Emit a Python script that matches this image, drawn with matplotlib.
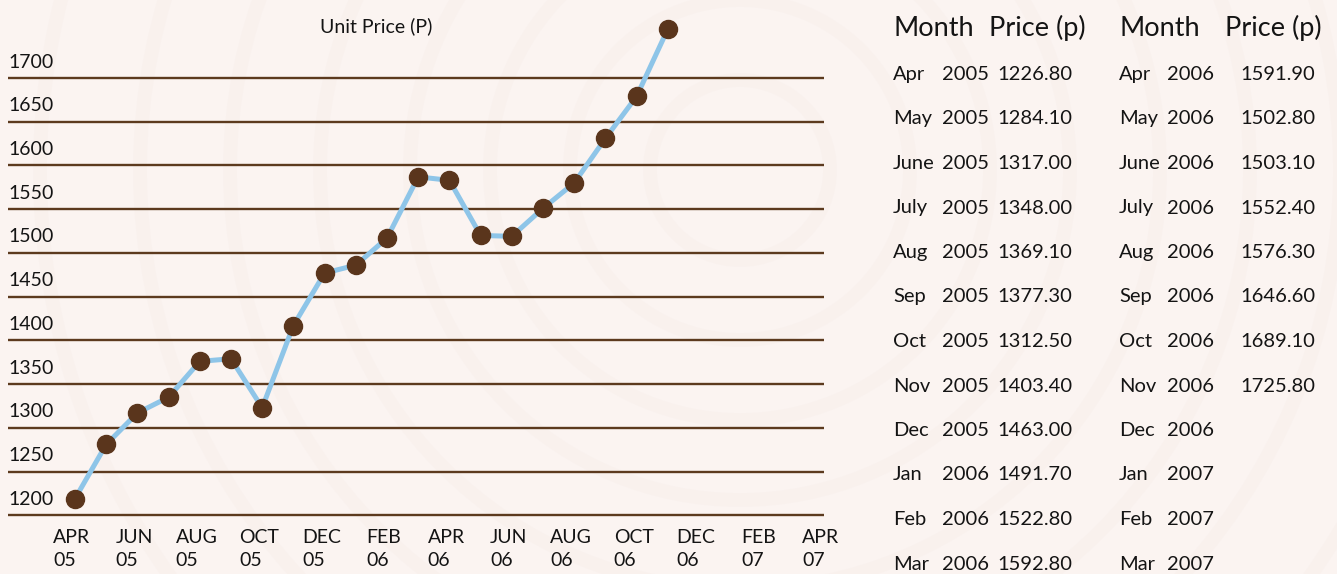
import matplotlib
matplotlib.use('Agg')
import matplotlib.pyplot as plt
from matplotlib.patches import Circle
from matplotlib.transforms import ScaledTranslation

plt.rcParams['font.family'] = ['Lato', 'DejaVu Sans']

# Plotted series, months Apr 05 .. Nov 06
months = list(range(20))
price = [1219, 1281, 1317, 1335, 1376, 1379, 1323, 1417, 1477, 1486,
         1517, 1587, 1583, 1520, 1519, 1551, 1580, 1631, 1679, 1756]

y_levels = [1200, 1250, 1300, 1350, 1400, 1450, 1500, 1550, 1600, 1650, 1700]
x_ticks = list(range(0, 25, 2))
x_labels = ['APR\n05', 'JUN\n05', 'AUG\n05', 'OCT\n05', 'DEC\n05', 'FEB\n06',
            'APR\n06', 'JUN\n06', 'AUG\n06', 'OCT\n06', 'DEC\n06', 'FEB\n07', 'APR\n07']

# Table on the right
tab_months = ['Apr', 'May', 'June', 'July', 'Aug', 'Sep', 'Oct', 'Nov',
              'Dec', 'Jan', 'Feb', 'Mar']
tab_years1 = ['2005'] * 9 + ['2006'] * 3
tab_years2 = ['2006'] * 9 + ['2007'] * 3
tab_prices1 = ['1226.80', '1284.10', '1317.00', '1348.00', '1369.10', '1377.30',
               '1312.50', '1403.40', '1463.00', '1491.70', '1522.80', '1592.80']
tab_prices2 = ['1591.90', '1502.80', '1503.10', '1552.40', '1576.30', '1646.60',
               '1689.10', '1725.80', '', '', '', '']

W, H = 1337, 574
bg = '#fbf4f1'
grid_col = '#5c3a1e'
line_col = '#8ec5e8'
dot_col = '#5a351c'
txt = '#141414'

fig = plt.figure(figsize=(W / 100, H / 100), dpi=100, facecolor=bg)

def px(x, y):
    return x / W, 1 - y / H

# faint wood-ring texture
bgax = fig.add_axes([0, 0, 1, 1], zorder=-5)
bgax.set_xlim(0, W)
bgax.set_ylim(H, 0)
bgax.axis('off')
for r in [90, 170, 250, 330, 420, 510, 600, 700]:
    bgax.add_patch(Circle((740, 170), r, fill=False, ec='#f6ece8', lw=10, alpha=0.35))

# main chart
ax = fig.add_axes([8 / W, (H - 525) / H, (824 - 8) / W, (525 - 5) / H])
ax.set_facecolor('none')
ax.set_ylim(1188.9, 1783.5)
ax.set_xlim(-2.147, 24.006)
for s in ax.spines.values():
    s.set_visible(False)

for lv in y_levels:
    ax.axhline(lv, color=grid_col, lw=1.7, zorder=1)

ax.plot(months, price, color=line_col, lw=3.6, zorder=2, clip_on=False)
ax.plot(months, price, 'o', color=dot_col, ms=13, zorder=3, clip_on=False)

ax.set_yticks([])
ytr = ax.get_yaxis_transform() + ScaledTranslation(0, 0.16, fig.dpi_scale_trans)
for lv in y_levels:
    ax.text(0.001, lv, str(lv), transform=ytr, ha='left', va='center',
            fontsize=14, color=txt)

ax.set_xticks(x_ticks)
ax.set_xticklabels(x_labels, fontsize=14, color=txt, multialignment='left',
                   linespacing=1.4)
ax.tick_params(axis='x', length=0, pad=3)
xoff = ScaledTranslation(-0.03, 0, fig.dpi_scale_trans)
for lab in ax.get_xticklabels():
    lab.set_transform(lab.get_transform() + xoff)

fig.text(*px(376, 26), 'Unit Price (P)', ha='center', va='center',
         fontsize=14, color=txt)

# table
for xm, xp in [(893, 989), (1119, 1225)]:
    fig.text(*px(xm, 36), 'Month', fontsize=19.5, color=txt, va='baseline')
    fig.text(*px(xp, 36), 'Price (p)', fontsize=19.5, color=txt, va='baseline')

for i in range(len(tab_months)):
    yb = 80 + 44.5 * i
    fig.text(*px(893, yb), tab_months[i], fontsize=14.5, color=txt, va='baseline')
    fig.text(*px(942, yb), tab_years1[i], fontsize=14.5, color=txt, va='baseline')
    fig.text(*px(997, yb), tab_prices1[i], fontsize=14.5, color=txt, va='baseline')
    fig.text(*px(1119, yb), tab_months[i], fontsize=14.5, color=txt, va='baseline')
    fig.text(*px(1167, yb), tab_years2[i], fontsize=14.5, color=txt, va='baseline')
    fig.text(*px(1240, yb), tab_prices2[i], fontsize=14.5, color=txt, va='baseline')

fig.savefig('out.png', dpi=100, facecolor=bg)
